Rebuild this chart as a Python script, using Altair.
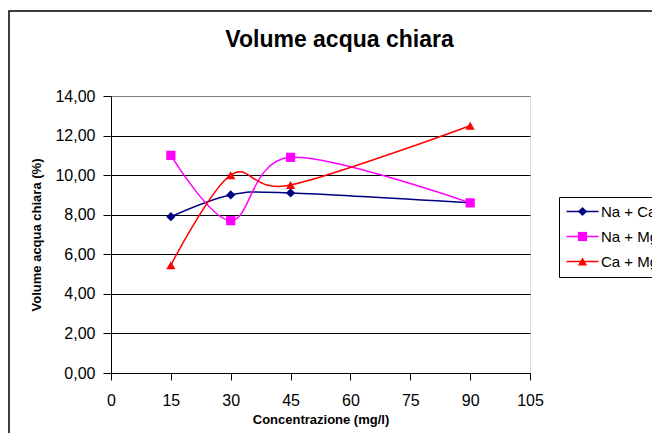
import altair as alt
import pandas as pd

concentrazione = [15, 30, 45, 90]
series_names = ["Na + Ca", "Na + Mg", "Ca + Mg"]
na_ca = [7.9, 9.0, 9.1, 8.6]
na_mg = [11.0, 7.7, 10.9, 8.6]
ca_mg = [5.45, 10.0, 9.5, 12.5]
colors = ["#000080", "#FF00FF", "#FF0000"]
shapes = ["diamond", "square", "triangle-up"]
x_ticks = [0, 15, 30, 45, 60, 75, 90, 105]
y_ticks = [0, 2, 4, 6, 8, 10, 12, 14]

rows = []
for name, vals in zip(series_names, [na_ca, na_mg, ca_mg]):
    for c, v in zip(concentrazione, vals):
        rows.append({"serie": name, "serie_m": name, "conc": c, "vol": v})
df = pd.DataFrame(rows)

FONT = "Liberation Sans"
LEG_X = 448
LEG_Y = 101

legend_common = dict(
    title=None,
    orient="none",
    legendX=LEG_X,
    legendY=LEG_Y,
    padding=7,
    labelFont=FONT,
    labelFontSize=15,
    labelColor="black",
    labelOffset=11,
    rowPadding=9,
    symbolOffset=9,
)
legend_lines = alt.Legend(
    **legend_common,
    fillColor="white",
    strokeColor="black",
    symbolType="M-4,0H4",
    symbolSize=64,
    symbolStrokeWidth=1.5,
    zindex=0,
)
legend_marks = alt.Legend(
    **legend_common,
    labelOpacity=0,
    symbolSize=85,
    symbolStrokeWidth=0,
    symbolOpacity=1,
    zindex=1,
)

x_enc = alt.X(
    "conc:Q",
    scale=alt.Scale(domain=[0, 105], nice=False),
    axis=alt.Axis(
        values=x_ticks,
        grid=False,
        tickSize=7,
        tickColor="black",
        domainColor="black",
        labelFlush=False,
        labelOverlap=False,
        labelFont=FONT,
        labelFontSize=16,
        labelColor="black",
        labelPadding=12,
        title="Concentrazione (mg/l)",
        titleFont=FONT,
        titleFontSize=13,
        titleFontWeight="bold",
        titleColor="black",
        titlePadding=5,
    ),
)
y_enc = alt.Y(
    "vol:Q",
    scale=alt.Scale(domain=[0, 14], nice=False),
    axis=alt.Axis(
        values=y_ticks,
        grid=True,
        gridColor=alt.condition("datum.value >= 14", alt.value("#808080"), alt.value("black")),
        gridWidth=1,
        tickSize=8,
        tickColor="black",
        domainColor="black",
        labelFlush=False,
        labelOverlap=False,
        labelExpr="replace(format(datum.value, '.2f'), '.', ',')",
        labelFont=FONT,
        labelFontSize=16,
        labelColor="black",
        labelPadding=8,
        title="Volume acqua chiara (%)",
        titleFont=FONT,
        titleFontSize=13,
        titleFontWeight="bold",
        titleColor="black",
        titlePadding=11,
    ),
)

border = alt.Chart(pd.DataFrame({"a": [0]})).mark_rect(
    fill=None, stroke="black", strokeWidth=1.5
).encode(
    x=alt.value(-102), x2=alt.value(700), y=alt.value(-85), y2=alt.value(500)
)

lines = alt.Chart(df).mark_line(interpolate="cardinal", tension=0, strokeWidth=1.5).encode(
    x=x_enc,
    y=y_enc,
    color=alt.Color("serie:N", scale=alt.Scale(domain=series_names, range=colors), legend=legend_lines),
)

points = alt.Chart(df).mark_point(filled=True, opacity=1, size=85).encode(
    x=x_enc,
    y=y_enc,
    color=alt.Color("serie_m:N", scale=alt.Scale(domain=series_names, range=colors), legend=legend_marks),
    shape=alt.Shape("serie_m:N", scale=alt.Scale(domain=series_names, range=shapes), legend=legend_marks),
)

chart = alt.layer(border, lines, points).resolve_scale(
    color="independent", shape="independent"
).properties(
    width=419,
    height=277,
    padding={"left": 103, "top": 88, "right": 122, "bottom": 60},
    autosize=alt.AutoSizeParams(type="none"),
    title=alt.Title(
        "Volume acqua chiara",
        font=FONT,
        fontSize=23,
        fontWeight="bold",
        color="black",
        anchor="middle",
        frame="group",
        dx=19,
        dy=60,
        offset=0,
        baseline="alphabetic",
    ),
).configure_view(
    fill="#C0C0C0", stroke="#808080", strokeWidth=1
).configure(background="white")

chart.save("out.html", embed_options={"renderer": "svg", "actions": False})
